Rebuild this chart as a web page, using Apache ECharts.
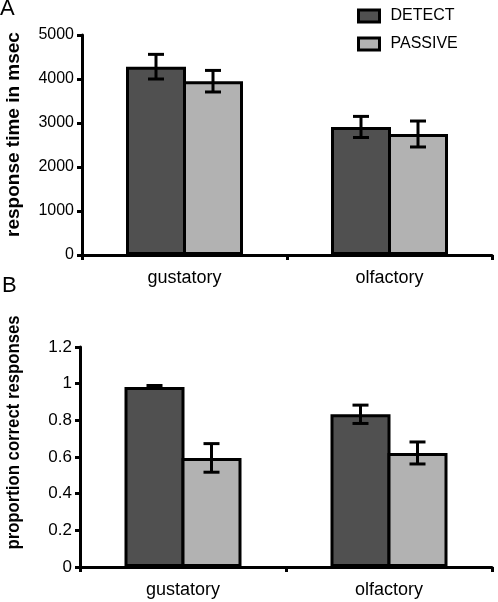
<!DOCTYPE html>
<html><head><meta charset="utf-8">
<script src="https://cdn.jsdelivr.net/npm/echarts@6/dist/echarts.min.js"></script>
<style>html,body{margin:0;padding:0;background:#fff}#c{width:498px;height:602px}</style>
</head><body><div id="c"></div>
<script>
var categories = ['gustatory', 'olfactory'];
var seriesNames = ['DETECT', 'PASSIVE'];
var rtDetect = [4280, 2910];
var rtDetectErr = [280, 240];
var rtPassive = [3950, 2750];
var rtPassiveErr = [245, 295];
var pcDetect = [0.982, 0.833];
var pcDetectErr = [0.008, 0.05];
var pcPassive = [0.595, 0.622];
var pcPassiveErr = [0.078, 0.06];
var rtTicks = [0, 1000, 2000, 3000, 4000, 5000];
var pcTicks = [0, 0.2, 0.4, 0.6, 0.8, 1, 1.2];
var yTitles = ['response time in msec', 'proportion correct responses'];

var FONT = '"Liberation Sans", Arial, sans-serif';
var colors = ['#505050', '#b2b2b2'];
var BW = 60;
var OVERLAP = 3;

function errData(vals, errs) {
  return vals.map(function (v, i) { return [i, v - errs[i], v + errs[i]]; });
}
function errSeries(data, xi, yi, side) {
  return {
    type: 'custom', xAxisIndex: xi, yAxisIndex: yi, z: 10, silent: true,
    data: data,
    renderItem: function (params, api) {
      var lo = api.coord([api.value(0), api.value(1)]);
      var hi = api.coord([api.value(0), api.value(2)]);
      var x = lo[0] + side * (BW - OVERLAP) / 2;
      var cw = 8;
      var st = { stroke: '#000', lineWidth: 3 };
      return { type: 'group', children: [
        { type: 'line', shape: { x1: x, y1: lo[1], x2: x, y2: hi[1] }, style: st },
        { type: 'line', shape: { x1: x - cw, y1: lo[1], x2: x + cw, y2: lo[1] }, style: st },
        { type: 'line', shape: { x1: x - cw, y1: hi[1], x2: x + cw, y2: hi[1] }, style: st }
      ]};
    }
  };
}
function barSeries(name, data, xi, yi, ci) {
  return {
    name: name, type: 'bar', xAxisIndex: xi, yAxisIndex: yi,
    data: data, barWidth: BW, barGap: (-OVERLAP / BW * 100) + '%',
    itemStyle: { color: colors[ci], borderColor: '#000', borderWidth: 3 }
  };
}
function xAxis(gi) {
  return {
    type: 'category', gridIndex: gi, data: categories,
    axisLine: { lineStyle: { color: '#000', width: 3 } },
    axisTick: { show: true, length: 5, lineStyle: { color: '#000', width: 3 } },
    axisLabel: { color: '#000', fontFamily: FONT, fontSize: 18, margin: 14 }
  };
}
function yAxis(gi, ticks, fs, fmt) {
  return {
    type: 'value', gridIndex: gi, min: ticks[0], max: ticks[ticks.length - 1],
    interval: ticks[1] - ticks[0],
    splitLine: { show: false },
    axisLine: { show: true, lineStyle: { color: '#000', width: 3 } },
    axisTick: { show: true, length: 5, lineStyle: { color: '#000', width: 3 } },
    axisLabel: { color: '#000', fontFamily: FONT, fontSize: fs, margin: 8, formatter: fmt }
  };
}
function yTitle(text, cx, cy, sx) {
  return {
    type: 'text', x: cx, y: cy, rotation: Math.PI / 2, scaleX: sx,
    style: { text: text, font: 'bold 19px ' + FONT, fill: '#000', align: 'center', verticalAlign: 'middle' }
  };
}

var chart = echarts.init(document.getElementById('c'), null, { renderer: 'canvas' });
chart.setOption({
  backgroundColor: '#fff',
  animation: false,
  grid: [
    { left: 82, right: 6, top: 35, bottom: 347 },
    { left: 80, right: 6, top: 347, bottom: 35 }
  ],
  legend: {
    data: seriesNames, orient: 'vertical', left: 352, top: 3,
    icon: 'rect',
    itemWidth: 21, itemHeight: 12, itemGap: 12,
    textStyle: { color: '#000', fontFamily: FONT, fontSize: 16, padding: [0, 0, 0, 6] },
    itemStyle: { borderColor: '#000', borderWidth: 3 }
  },
  graphic: [
    { type: 'text', left: 0, top: -2, style: { text: 'A', font: '22px ' + FONT, fill: '#000' } },
    { type: 'text', left: 2, top: 275, style: { text: 'B', font: '22px ' + FONT, fill: '#000' } },
    yTitle(yTitles[0], 14, 134.5, 1.0),
    yTitle(yTitles[1], 14, 432.5, 0.88)
  ],
  xAxis: [xAxis(0), xAxis(1)],
  yAxis: [
    yAxis(0, rtTicks, 16, function (v) { return String(v); }),
    yAxis(1, pcTicks, 17, function (v) { return String(Math.round(v * 10) / 10); })
  ],
  series: [
    barSeries('DETECT', rtDetect, 0, 0, 0),
    barSeries('PASSIVE', rtPassive, 0, 0, 1),
    errSeries(errData(rtDetect, rtDetectErr), 0, 0, -1),
    errSeries(errData(rtPassive, rtPassiveErr), 0, 0, 1),
    barSeries('DETECT', pcDetect, 1, 1, 0),
    barSeries('PASSIVE', pcPassive, 1, 1, 1),
    errSeries(errData(pcDetect, pcDetectErr), 1, 1, -1),
    errSeries(errData(pcPassive, pcPassiveErr), 1, 1, 1)
  ]
});
</script></body></html>
